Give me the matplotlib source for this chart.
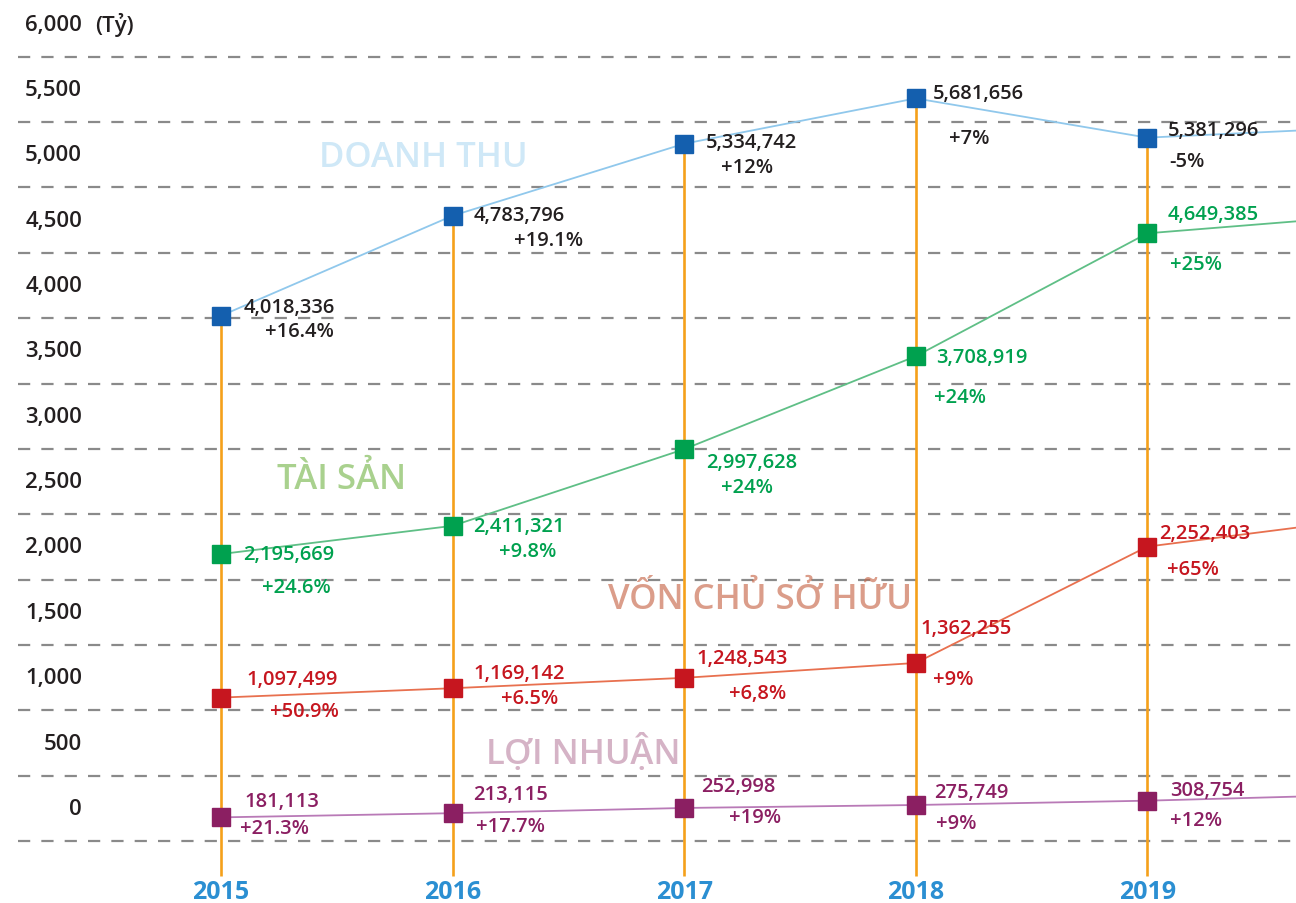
import matplotlib
matplotlib.use("Agg")
import matplotlib.pyplot as plt

plt.rcParams['font.family'] = ['Open Sans', 'DejaVu Sans']

# ---------------- data ----------------
years = [2015, 2016, 2017, 2018, 2019]
years_ext = [2015, 2016, 2017, 2018, 2019, 2020]  # 2020 continues off the right edge

doanh_thu = [4018.336, 4783.796, 5334.742, 5681.656, 5381.296, 5465]
tai_san = [2195.669, 2411.321, 2997.628, 3708.919, 4649.385, 4792]
von_csh = [1097.499, 1169.142, 1248.543, 1362.255, 2252.403, 2478]
loi_nhuan = [181.113, 213.115, 252.998, 275.749, 308.754, 357]

dt_labels = ["4,018,336", "4,783,796", "5,334,742", "5,681,656", "5,381,296"]
dt_pct = ["+16.4%", "+19.1%", "+12%", "+7%", "-5%"]
ts_labels = ["2,195,669", "2,411,321", "2,997,628", "3,708,919", "4,649,385"]
ts_pct = ["+24.6%", "+9.8%", "+24%", "+24%", "+25%"]
vc_labels = ["1,097,499", "1,169,142", "1,248,543", "1,362,255", "2,252,403"]
vc_pct = ["+50.9%", "+6.5%", "+6,8%", "+9%", "+65%"]
ln_labels = ["181,113", "213,115", "252,998", "275,749", "308,754"]
ln_pct = ["+21.3%", "+17.7%", "+19%", "+9%", "+12%"]

y_ticks = [0, 500, 1000, 1500, 2000, 2500, 3000, 3500, 4000, 4500, 5000, 5500, 6000]
y_tick_labels = ["0", "500", "1,000", "1,500", "2,000", "2,500", "3,000", "3,500",
                 "4,000", "4,500", "5,000", "5,500", "6,000"]
unit_label = "(Tỷ)"

series_names = ["DOANH THU", "TÀI SẢN", "VỐN CHỦ SỞ HỮU", "LỢI NHUẬN"]

# ---------------- label offsets (pixels, from each marker) ----------------
dt_val_off = [(23, 9), (21, 1), (22, 2), (17, 5), (20, 8)]
dt_pct_off = [(44, -15), (61, -24), (37, -23), (33, -40), (22, -23)]
ts_val_off = [(22, 0), (21, 0), (22, -13), (20, -1), (20, 19)]
ts_pct_off = [(41, -33), (46, -25), (37, -38), (18, -41), (23, -31)]
vc_val_off = [(26, 19), (21, 15), (12, 20), (5, 35), (12, 14)]
vc_pct_off = [(49, -13), (48, -10), (45, -15), (17, -16), (20, -22)]
ln_val_off = [(24, 16), (21, 19), (17, 22), (18, 13), (23, 11)]
ln_pct_off = [(19, -11), (23, -13), (45, -9), (20, -18), (23, -19)]

W, H = 1296, 904
fig = plt.figure(figsize=(W / 100, H / 100), dpi=100)
ax = fig.add_axes([0, 0, 1, 1])
ax.set_xlim(2014.046, 2019.642)
ax.set_ylim(-474, 6442)
ax.axis('off')

TXT = '#231f20'
FW = 'semibold'

# gridlines
for v in y_ticks:
    ax.axhline(v, xmin=18 / W, xmax=1, color='#8a8a8a', lw=1.6,
               dashes=(5.5, 5), zorder=1)

# y labels (placed half a grid step above each gridline)
for v, lab in zip(y_ticks, y_tick_labels):
    ax.annotate(lab, xy=(0, v + 250), xycoords=('axes fraction', 'data'),
                xytext=(82, 0), textcoords='offset pixels', fontweight=FW,
                fontsize=16, color=TXT, ha='right', va='center')
ax.annotate(unit_label, xy=(0, y_ticks[-1] + 250), xycoords=('axes fraction', 'data'),
            xytext=(95, 0), textcoords='offset pixels', fontweight=FW,
            fontsize=16, color=TXT, ha='left', va='center')

# vertical orange lines
for x, top in zip(years, doanh_thu[:5]):
    ax.plot([x, x], [-270, top], color='#f5a01a', lw=1.9, zorder=2,
            solid_capstyle='butt')

# series name labels (background text)
name_style = [
    (423, 158, '#cfe8f7', 1.0),
    (342, 480, '#a9d18e', 1.0),
    (760, 600, '#c8694b', 0.65),
    (583, 753, '#d5b3c6', 1.0),
]
for name, (px, py, col, al) in zip(series_names, name_style):
    ax.text(px / W, 1 - py / H, name, transform=ax.transAxes, fontsize=25,
            fontweight=FW, color=col, alpha=al, ha='center', va='center', zorder=3)

# series
series = [
    (doanh_thu, '#90c8ec', '#145fae', TXT, dt_labels, dt_pct, dt_val_off, dt_pct_off),
    (tai_san, '#5fbf86', '#00a14f', '#00a14f', ts_labels, ts_pct, ts_val_off, ts_pct_off),
    (von_csh, '#e8704f', '#c6161f', '#c6161f', vc_labels, vc_pct, vc_val_off, vc_pct_off),
    (loi_nhuan, '#b97ab7', '#8b1f62', '#8b1f62', ln_labels, ln_pct, ln_val_off, ln_pct_off),
]
for vals, lc, mc, tc, labs, pcts, voff, poff in series:
    ax.plot(years_ext, vals, color=lc, lw=1.3, zorder=4)
    ax.plot(years, vals[:5], ls='none', marker='s', markersize=13,
            color=mc, zorder=5)
    for x, v, lab, pc, vo, po in zip(years, vals, labs, pcts, voff, poff):
        ax.annotate(lab, xy=(x, v), xytext=vo, textcoords='offset pixels',
                    fontsize=14.5, fontweight=FW, color=tc, ha='left',
                    va='center', zorder=6)
        ax.annotate(pc, xy=(x, v), xytext=po, textcoords='offset pixels',
                    fontsize=14.5, fontweight=FW, color=tc, ha='left',
                    va='center', zorder=6)

# year labels
for x in years:
    ax.annotate(str(x), xy=(x, 0), xycoords=('data', 'axes fraction'),
                xytext=(0, 904 - 893), textcoords='offset pixels',
                fontsize=18, fontweight='bold', color='#2b8fd2',
                ha='center', va='center')

fig.savefig('out.png', dpi=100, facecolor='white')
